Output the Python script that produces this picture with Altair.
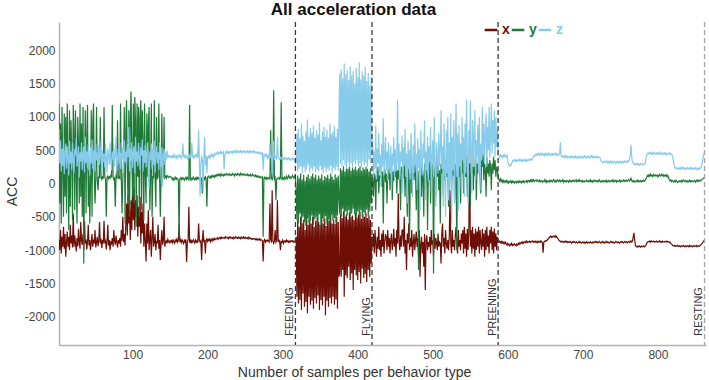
import altair as alt
import pandas as pd

# Accelerometer readings for samples 2 ... 862 (one value per sample)
first_sample = 2

acc_z = [
    # 2-151
    820, 300, 650, 180, 520, 260, 700, 140, 450, 600,
    220, 560, 380, 120, 640, 300, 480, 200, 610, 350,
    150, 520, 420, 690, 250, 380, 560, 90, 470, 330,
    620, 200, 440, 560, 160, 700, 310, 480, 230, 590,
    380, 120, 540, 300, 660, 220, 430, 510, 180, 600,
    350, 470, 100, 580, 280, 420, 640, 200, 500, 320,
    450, 240, 600, 380, 160, 530, 410, 280, 620, 340,
    200, 480, 360, 560, 260, 430, 700, 180, 390, 520,
    300, 610, 220, 460, 380, 540, 150, 650, 320, 480,
    250, 590, 400, 850, 180, 520, 340, 620, 230, 460,
    560, 150, 700, 330, 480, 260, 610, 390, 200, 540,
    420, 660, 180, 500, 310, 580, 240, 450, 620, 120,
    -80, 480, 350, 600, 220, 520, 280, 640, 160, 430,
    560, 300, 470, 200, 620, 380, 250, 540, -50, 420,
    520, 280, 460, 350, 500, 380, 420, 400, 410, 390,
    # 152-317
    410, 385, 425, 395, 430, 400, 375, 415, 390, 420,
    395, 430, 405, 380, 420, 600, 390, 415, 385, 425,
    400, 370, 410, 440, 390, 420, 395, 610, 410, 380,
    420, 395, 430, 405, 440, 385, 800, 350, -190, 300,
    420, 350, -120, 380, 700, 280, 420, 150, 390, 410,
    380, 420, 395, 440, 410, 430, 400, 450, 425, 440,
    450, 470, 440, 465, 455, 480, 445, 470, 460, 475,
    210, 440, 470, 485, 455, 475, 450, 480, 460, 470,
    480, 455, 490, 465, 475, 500, 460, 485, 470, 490,
    465, 480, 495, 460, 485, 470, 490, 475, 460, 485,
    470, 490, 465, 480, 495, 460, 475, 485, 470, 490,
    460, 480, 470, 455, 475, 465, 450, 470, 445, 460,
    440, 455, 200, 430, 420, 440, 400, 430, 380, 410,
    390, 600, 380, 420, 130, 380, 640, 350, 420, 390,
    370, 700, 410, 380, 360, 395, 370, 385, 355, 380,
    365, 390, 370, 355, 380, 360, 385, 370, 350, 375,
    360, 380, 355, 370, 350, 330,
    # 318-375
    300, 750, 180, 820, 220, 680, 260, 900, 150, 720,
    240, 640, 170, 780, 210, 960, 280, 700, 160, 830,
    230, 760, 190, 870, 250, 690, 170, 800, 210, 740,
    180, 920, 260, 650, 200, 780, 150, 850, 240, 700,
    170, 810, 220, 680, 190, 900, 260, 740, 160, 780,
    230, 860, 200, 700, 250, 820, 190, 1000,
    # 376-419
    1650, 300, 1720, 250, 1580, 350, 1800, 280, 1640, 220,
    1700, 320, 1550, 260, 1760, 300, 1620, 240, 1690, 330,
    1500, 280, 1740, 350, 1600, 260, 1820, 300, 1560, 240,
    1680, 330, 1620, 270, 1750, 310, 1540, 250, 1660, 360,
    1480, 300, 1600, 500,
    # 420-587
    650, 100, 480, 220, 870, 60, 520, 300, 760, 150,
    430, -50, 600, 250, 980, 120, 380, 700, 200, 480,
    40, 620, 330, 150, 560, -100, 450, 280, 700, 80,
    520, 180, 350, 1260, 200, 600, 60, 480, 330, 720,
    -150, 540, 260, 820, 100, 450, -300, 640, 220, 500,
    60, 760, 350, -200, 580, 150, 900, 280, 450, -100,
    680, 230, 520, -400, 800, 300, 120, 600, 380, 950,
    -250, 480, 200, 700, 30, 560, 320, 850, -150, 420,
    650, 100, 1000, 280, -350, 620, 400, 150, 760, 260,
    500, 1100, 220, 560, -350, 900, 300, -500, 800, 150,
    1000, -250, 620, 50, 1050, -600, 700, 200, 950, -300,
    500, 1200, 100, 750, -400, 880, 250, 600, -100, 1000,
    350, 700, -200, 900, 150, 1260, 420, -300, 800, 300,
    1250, 500, -150, 950, 250, 700, 1100, 50, 650, 400,
    880, 150, 1000, -100, 600, 350, 1150, 420, 900, 300,
    750, 1050, 250, 850, 500, 1150, 380, 700, 1200, 450,
    950, 600, 1100, 400, 1000, 550, 800, 450,
    # 588-862
    420, 395, 430, 405, 415, 390, 425, 400, 435, 410,
    395, 420, 330, 280, 260, 285, 270, 300, 330, 350,
    335, 355, 340, 360, 330, 350, 345, 365, 335, 355,
    340, 360, 330, 350, 345, 365, 335, 350, 340, 360,
    345, 365, 350, 370, 355, 375, 400, 420, 410, 440,
    425, 445, 430, 450, 420, 440, 455, 430, 445, 425,
    440, 420, 450, 430, 445, 425, 455, 435, 440, 420,
    445, 430, 450, 425, 440, 455, 430, 445, 420, 440,
    430, 445, 620, 420, 400, 415, 395, 410, 390, 420,
    400, 385, 410, 395, 380, 405, 390, 415, 395, 380,
    405, 390, 410, 385, 400, 375, 395, 410, 385, 400,
    390, 405, 380, 400, 415, 390, 405, 380, 395, 410,
    400, 385, 410, 395, 420, 390, 405, 385, 400, 395,
    410, 385, 400, 390, 395, 380, 340, 325, 315, 330,
    320, 335, 310, 325, 340, 315, 330, 305, 325, 340,
    315, 330, 310, 325, 335, 315, 300, 320, 335, 310,
    325, 315, 330, 305, 320, 335, 310, 325, 340, 315,
    330, 320, 345, 335, 360, 420, 580, 400, 320, 305,
    290, 300, 280, 295, 285, 300, 275, 290, 280, 295,
    285, 300, 290, 280, 295, 300, 380, 430, 445, 460,
    440, 455, 470, 445, 460, 435, 455, 465, 440, 450,
    460, 435, 455, 445, 470, 440, 450, 460, 435, 455,
    445, 465, 440, 455, 430, 450, 445, 460, 435, 450,
    440, 420, 380, 300, 250, 235, 220, 240, 225, 215,
    235, 220, 240, 215, 230, 245, 220, 235, 210, 230,
    225, 240, 215, 230, 220, 245, 225, 210, 235, 220,
    230, 215, 240, 220, 205, 230, 215, 235, 220, 240,
    260, 320, 380, 430, 470,
]

acc_y = [
    # 2-151
    1200, -300, 900, -600, 1150, 200, -500, 1050, -200, 1000,
    -450, 1200, 300, -700, 1100, -350, 950, 400, -550, 1180,
    800, -400, 1100, 150, -600, 1000, 600, -300, 1200, -200,
    900, -500, 1150, -1200, 300, 1100, -450, 700, 1180, -350,
    200, -600, 50, 1100, -500, 900, 1200, 100, -300, 80,
    1150, 60, -100, 120, 80, 1000, 90, 60, 110, 70,
    1150, 100, 60, -500, 90, 110, 70, 100, 80, 120,
    90, 1180, 100, 60, 80, -350, 110, 90, 950, 70,
    100, 80, 1200, 90, -450, 60, 300, 1150, -600, 800,
    1250, 200, -300, 1100, -500, 1000, 1380, 400, -200, 1200,
    -300, 1300, 900, -650, 1200, 100, 1150, -500, 1000, 1250,
    -400, 1100, 600, -550, 1200, 120, -300, 1050, 100, 900,
    1150, -400, 90, 1200, -500, 110, 80, 1250, 100, -350,
    1000, 80, 100, 1200, 90, -500, 110, 1050, 80, 100,
    1000, 90, 110, 80, 120, 100, 90, 110, 100, 95,
    # 152-317
    90, 60, 80, 50, 75, 95, 60, 85, 70, 55,
    -800, 70, 85, 60, 90, 65, 80, 50, 75, 95,
    60, 90, 70, 55, 1180, 75, 50, 80, 65, 95,
    70, 55, 80, 60, 95, 70, 85, 60, 75, 90,
    80, -150, 70, 90, 60, 100, 80, -350, 90, 110,
    95, 80, 110, 90, 120, 100, 115, 95, 125, 105,
    130, 115, 140, 120, 135, 110, 145, 125, 130, 115,
    140, 120, 135, 150, 125, 140, 130, 145, 120, 135,
    125, 150, 130, 140, 115, 145, 135, 125, 150, 130,
    140, 120, 155, 135, 125, 145, 130, 140, 120, 135,
    125, 140, 115, 130, 120, 135, 110, 125, 140, 115,
    120, 105, 125, 100, 115, 95, 110, 90, 105, 85,
    90, 100, -800, 80, 95, 70, 90, 60, 85, 75,
    90, 70, 800, 80, 60, 95, 1400, 70, 90, -250,
    60, 80, 75, 90, 65, 85, 1220, 50, 85, 70,
    95, 60, 80, 110, 70, 90, 120, 85, 100, 75,
    90, 120, 100, 80, 110, 90,
    # 318-375
    -100, -550, 120, -600, 80, -450, 150, -620, 60, -500,
    130, -580, 40, -640, 100, -520, 140, -600, 70, -560,
    110, -480, 150, -620, 90, -540, 130, -500, 60, -600,
    120, -460, 80, -650, 140, -520, 50, -580, 110, -490,
    90, -620, 130, -540, 70, -600, 150, -470, 100, -560,
    60, -520, 140, -600, 90, -480, 120, -200,
    # 376-419
    -450, 230, -500, 200, -380, 260, -520, 180, -420, 240,
    -480, 220, -400, 250, -500, 190, -450, 240, -380, 210,
    -460, 250, -510, 200, -420, 230, -480, 260, -400, 190,
    -500, 240, -440, 210, -470, 250, -390, 220, -490, 180,
    -420, 230, -300, 100,
    # 420-587
    50, -200, 150, 100, -400, 200, 30, 250, -150, 120,
    80, 300, -50, 180, -600, 100, 220, 20, 150, -300,
    200, 60, 250, -100, 120, 350, -250, 180, 40, 220,
    100, 280, -150, 200, 60, 300, 120, -400, 250, 150,
    200, 80, 400, -200, 250, 100, -500, 300, 150, -900,
    100, 280, -150, 200, 350, 50, 300, 120, -400, 250,
    150, -1300, 200, 80, 400, -200, 250, 100, -500, 300,
    -100, 200, 350, -700, 150, 50, 450, -300, 250, 100,
    300, -1350, 150, 250, -200, 350, 100, 400, -100, 200,
    -600, 300, 150, 500, -200, 250, 50, 350, 100, 200,
    250, -350, 300, 150, 400, -100, 250, 120, 500, -250,
    300, 150, -1000, 400, 200, 100, 350, -300, 250, 150,
    450, -150, 300, 200, 100, 400, -200, 250, 350, 150,
    -350, 300, 150, 400, -100, 250, 120, 500, -250, 300,
    150, 400, 200, 100, -150, 350, 250, 450, 50, 300,
    200, -200, 400, 150, 300, 100, 350, 250, -100, 300,
    150, 400, 200, 350, 100, 250, 200, 100,
    # 588-862
    60, 35, 70, 30, 55, 20, 45, 15, 40, 25,
    45, 15, 35, 5, 30, 20, 40, 10, 35, 15,
    30, 5, 25, 35, 10, 30, 15, 40, 20, 30,
    10, 35, 20, 40, 15, 30, 25, 45, 20, 40,
    45, 25, 50, 30, 60, 35, 55, 30, 45, 50,
    35, 55, 40, 30, 50, 25, 45, 35, 20, 40,
    30, 55, 25, 45, 15, 40, 35, 20, 50, 30,
    45, 25, 40, 60, 35, 20, 45, 30, 55, 40,
    30, 50, 25, 40, 35, 55, 20, 45, 30, 40,
    25, 45, 35, 20, 50, 30, 40, 25, 45, 35,
    50, 30, 40, 55, 25, 45, 35, 60, 30, 40,
    30, 45, 20, 35, 25, 40, 30, 50, 35, 25,
    45, 30, 55, 25, 40, 20, 45, 35, 50, 30,
    40, 25, 45, 30, 55, 35, 20, 40, 30, 45,
    25, 40, 30, 50, 20, 35, 45, 25, 40, 30,
    45, 30, 55, 25, 40, 35, 50, 20, 40, 30,
    35, 50, 25, 45, 30, 40, 55, 30, 45, 35,
    50, 30, 45, 60, 40, 55, 80, 40, 30, 45,
    20, 35, 25, 40, 30, 50, 25, 40, 30, 45,
    25, 40, 30, 50, 35, 45, 70, 95, 120, 105,
    130, 110, 140, 115, 125, 105, 135, 120, 110, 130,
    115, 125, 100, 120, 135, 110, 125, 140, 115, 130,
    105, 125, 115, 130, 100, 120, 90, 60, 40, 55,
    30, 45, 35, 20, 40, 25, 50, 30, 15, 35,
    25, 40, 30, 45, 20, 40, 55, 35, 25, 45,
    30, 40, 20, 35, 50, 25, 45, 30, 40, 25,
    35, 45, 20, 40, 55, 30, 45, 35, 50, 40,
    55, 65, 70, 85, 95,
]

acc_x = [
    # 2-151
    -850, -1000, -700, -1050, -800, -950, -650, -980, -760, -1100,
    -880, -720, -950, -800, -1000, -620, -900, -780, -960, -450,
    -950, -780, -900, -1020, -820, -940, -680, -880, -980, -580,
    -860, -920, -760, -1000, -560, -900, -840, -990, -870, -620,
    -930, -850, -1000, -880, -760, -950, -840, -900, -700, -960,
    -880, -800, -940, -860, -580, -900, -830, -970, -850, -900,
    -560, -900, -840, -990, -870, -620, -930, -850, -1000, -880,
    -900, -820, -950, -700, -860, -920, -780, -880, -960, -850,
    -900, -820, -950, -700, -860, -500, -880, -760, -930, -600,
    -300, -780, -150, -600, -400, -850, -250, -700, -100, -550,
    -50, -700, -250, -500, -180, -800, -350, -650, -200, -900,
    -420, -750, -300, -950, -600, -880, -1170, -600, -900, -400,
    -1000, -850, -700, -1100, -830, -500, -950, -880, -760, -1000,
    -860, -900, -620, -980, -850, -1150, -880, -700, -920, -860,
    -500, -950, -880, -860, -900, -840, -870, -890, -860, -880,
    # 152-317
    -860, -890, -840, -880, -900, -850, -870, -835, -880, -855,
    -600, -880, -850, -890, -845, -870, -900, -855, -880, -840,
    -1180, -870, -850, -350, -890, -840, -900, -860, -880, -845,
    -870, -895, -850, -880, -860, -890, -600, -850, -880, -860,
    -1150, -870, -700, -880, -845, -1050, -850, -830, -870, -840,
    -860, -835, -875, -840, -860, -830, -850, -825, -845, -830,
    -830, -815, -840, -820, -810, -830, -805, -825, -815, -820,
    -810, -825, -800, -815, -820, -805, -830, -810, -800, -820,
    -815, -825, -805, -830, -815, -800, -820, -810, -825, -805,
    -820, -810, -830, -805, -815, -825, -800, -820, -810, -825,
    -815, -825, -805, -830, -815, -820, -835, -825, -840, -830,
    -835, -825, -845, -830, -850, -835, -845, -830, -855, -840,
    -850, -860, -1170, -860, -840, -880, -855, -870, -850, -865,
    -880, -300, -850, -870, -100, -870, -900, -860, -700, -880,
    -860, -250, -880, -850, -870, -1000, -870, -880, -850, -900,
    -870, -860, -880, -850, -875, -860, -885, -865, -880, -860,
    -870, -860, -880, -865, -875, -860,
    # 318-375
    -800, -1700, -550, -1800, -650, -1750, -500, -1900, -600, -1650,
    -550, -1850, -700, -1780, -480, -1950, -620, -1700, -540, -1820,
    -600, -1760, -500, -1880, -650, -1720, -560, -1800, -500, -1680,
    -580, -1900, -620, -1750, -470, -1830, -600, -1700, -520, -1980,
    -640, -1760, -500, -1850, -560, -1720, -450, -1800, -600, -1700,
    -540, -1820, -610, -1740, -500, -1880, -580, -1400,
    # 376-419
    -1350, -450, -1400, -520, -1300, -420, -1700, -500, -1380, -460,
    -1420, -540, -1250, -430, -1450, -500, -1350, -480, -1600, -550,
    -1300, -440, -1380, -510, -1450, -470, -1330, -420, -1500, -530,
    -1280, -460, -1420, -500, -1360, -440, -1480, -520, -1300, -480,
    -1400, -550, -1200, -800,
    # 420-587
    -950, -750, -1050, -700, -900, -1100, -800, -980, -650, -1000,
    -850, -1100, -750, -950, -700, -1050, -880, -760, -800, -1000,
    -700, -950, -820, -1050, -850, -750, -1000, -900, -680, -950,
    -820, -1100, -700, -900, -150, -850, -1000, -780, -950, -700,
    -700, -950, -500, -1050, -850, -1300, -750, -900, -600, -1000,
    -820, -950, -700, -1100, -880, -760, -1000, -850, -720, -950,
    -820, -1100, -700, -1400, -900, -800, -1050, -880, -1250, -760,
    -1600, -850, -780, -1000, -880, -950, -800, -1050, -700, -920,
    -850, -1100, -760, -980, -820, -900, -1000, -750, -950, -880,
    -900, -1200, -750, -600, -950, -820, -1050, -700, -900, -980,
    -850, -1000, -780, -100, -900, -1050, -700, -950, -850, -1000,
    -780, -650, -900, -1050, -700, -950, -850, -1000, -750, -900,
    -700, -1050, -650, -980, -750, -1100, -680, -1000, -720, 650,
    -950, -700, -1050, -650, -980, -750, -1100, -680, -1000, -720,
    -950, -650, -1050, -700, -880, -1000, -680, -950, -750, -1100,
    -700, -1000, -650, -950, -780, -1050, -700, -900, -650, -1000,
    -720, -1050, -680, -950, -750, -1000, -800, -880,
    # 588-862
    -880, -865, -890, -870, -895, -875, -900, -880, -905, -885,
    -910, -925, -900, -920, -935, -910, -925, -900, -930, -915,
    -925, -905, -920, -935, -910, -925, -900, -915, -890, -905,
    -885, -900, -875, -895, -880, -870, -890, -865, -885, -875,
    -880, -865, -885, -870, -875, -860, -880, -870, -885, -865,
    -875, -890, -865, -880, -870, -885, -860, -875, -890, -1040,
    -875, -865, -870, -855, -860, -840, -830, -815, -800, -790,
    -810, -795, -805, -790, -800, -785, -810, -795, -815, -830,
    -850, -860, -870, -880, -865, -875, -885, -870, -880, -865,
    -880, -870, -890, -875, -885, -870, -880, -895, -875, -885,
    -870, -885, -890, -875, -880, -895, -885, -870, -890, -880,
    -895, -885, -875, -890, -880, -900, -885, -875, -895, -885,
    -880, -890, -875, -885, -895, -880, -890, -875, -885, -870,
    -885, -875, -890, -880, -870, -885, -895, -880, -870, -890,
    -880, -895, -885, -870, -890, -875, -885, -895, -880, -870,
    -885, -875, -890, -880, -895, -885, -870, -880, -890, -875,
    -885, -895, -880, -870, -885, -875, -890, -880, -870, -885,
    -875, -890, -880, -870, -885, -875, -860, -880, -870, -800,
    -740, -850, -930, -945, -955, -940, -950, -935, -945, -955,
    -940, -950, -945, -935, -950, -940, -925, -900, -880, -870,
    -875, -865, -880, -860, -875, -870, -865, -880, -870, -875,
    -865, -880, -870, -875, -860, -880, -870, -885, -865, -875,
    -880, -870, -875, -865, -880, -870, -875, -885, -880, -900,
    -910, -920, -935, -940, -930, -945, -935, -940, -930, -945,
    -940, -935, -950, -940, -935, -945, -930, -940, -950, -935,
    -945, -935, -940, -950, -930, -945, -940, -935, -950, -940,
    -935, -945, -940, -930, -950, -940, -935, -945, -930, -925,
    -910, -895, -880, -860, -850,
]

# Last sample of each behaviour segment
behavior_ends = [317, 419, 587, 862]
behavior_names = ["FEEDING", "FLYING", "PREENING", "RESTING"]

series_names = ["x", "y", "z"]
series_colors = ["#6e0f07", "#1e7a36", "#87cbeb"]

x_ticks = [100, 200, 300, 400, 500, 600, 700, 800]
y_ticks = [-2000, -1500, -1000, -500, 0, 500, 1000, 1500, 2000]

assert len(acc_x) == len(acc_y) == len(acc_z)
samples = list(range(first_sample, first_sample + len(acc_x)))
acc = pd.concat(
    [
        pd.DataFrame({"sample": samples, "acc": vals, "axis": name})
        for name, vals in zip(series_names, [acc_x, acc_y, acc_z])
    ],
    ignore_index=True,
)
behaviors = pd.DataFrame({"end": behavior_ends, "behavior": behavior_names})

x_scale = alt.Scale(domain=[2, 864], nice=False, zero=False)
y_scale = alt.Scale(domain=[-2425, 2425], nice=False, zero=False)

lines = alt.Chart(acc).mark_line(strokeWidth=1.2, clip=True).encode(
    x=alt.X(
        "sample:Q",
        scale=x_scale,
        axis=alt.Axis(
            values=x_ticks,
            labelExpr="'' + datum.value",
            title="Number of samples per behavior type",
            titleX=295,
            titleY=27,
            titleAlign="center",
            titleBaseline="middle",
        ),
    ),
    y=alt.Y(
        "acc:Q",
        scale=y_scale,
        axis=alt.Axis(
            values=y_ticks,
            labelExpr="'' + datum.value",
            title="ACC",
            titleX=-47,
            titleY=169,
            titleAngle=270,
            titleAlign="center",
            titleBaseline="middle",
        ),
    ),
    color=alt.Color(
        "axis:N",
        scale=alt.Scale(domain=series_names, range=series_colors),
        legend=alt.Legend(
            title=None,
            orient="none",
            legendX=424,
            legendY=0,
            direction="horizontal",
            symbolType="stroke",
            symbolSize=160,
            symbolStrokeWidth=2.5,
            labelFontSize=14,
            labelFontWeight="bold",
            labelOffset=3,
            columnPadding=-6,
            padding=0,
            labelColor={"expr": "scale('color', datum.value)"},
        ),
    ),
)

rules = alt.Chart(behaviors).mark_rule(strokeDash=[5, 3], strokeWidth=1.3).encode(
    x=alt.X("end:Q", scale=x_scale),
    color=alt.condition(
        alt.datum.behavior == "RESTING", alt.value("#a3a3a3"), alt.value("#3c3c3c")
    ),
)

labels = alt.Chart(behaviors).mark_text(
    angle=270, align="left", baseline="alphabetic", fontSize=11, color="#333333", xOffset=-2
).encode(
    x=alt.X("end:Q", scale=x_scale),
    y=alt.value(314),
    text="behavior:N",
)

chart = (
    alt.layer(lines, rules, labels)
    .properties(
        width=647,
        height=323,
        autosize=alt.AutoSizeParams(type="none"),
        padding={"left": 59, "top": 22, "right": 3, "bottom": 35},
        title=alt.TitleParams(
            "All acceleration data",
            fontSize=17,
            fontWeight="bold",
            color="#111111",
            anchor="middle",
            dx=-29,
            offset=2,
        ),
    )
    .configure(font="Liberation Sans")
    .configure_view(stroke=None)
    .configure_axis(
        grid=False,
        ticks=False,
        domainColor="#b3b3b3",
        domainWidth=1.5,
        labelFontSize=12,
        labelColor="#444444",
        labelPadding=4,
        titleFontSize=14,
        titleFontWeight="normal",
        titleColor="#333333",
    )
)

chart.save("out.html", embed_options={"renderer": "svg", "actions": False})
